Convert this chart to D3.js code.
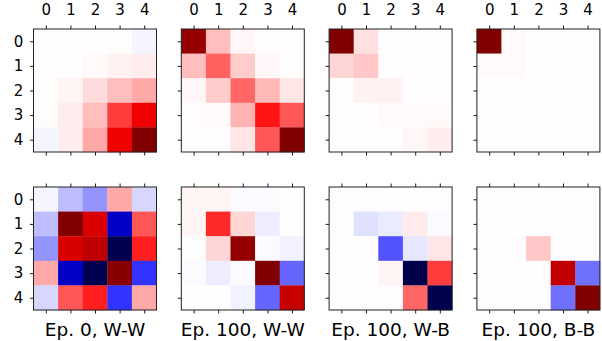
<!DOCTYPE html>
<html><head><meta charset="utf-8">
<script src="https://cdn.jsdelivr.net/npm/d3@7"></script>
<style>body{margin:0;background:#fff}svg{display:block}text{font-family:"DejaVu Sans",sans-serif;fill:#000}</style>
</head><body><svg id="c" width="602" height="341"></svg>
<script>
const labels = ["0","1","2","3","4"];
const titles = ["Ep. 0, W-W","Ep. 100, W-W","Ep. 100, W-B","Ep. 100, B-B"];

const top1 = [
 [0.003,0.003,0.003,0.005,-0.02],
 [0.003,0.003,0.012,0.025,0.035],
 [0.005,0.02,0.07,0.13,0.17],
 [0.006,0.035,0.13,0.38,0.56],
 [-0.02,0.035,0.17,0.56,1.0]];
const top2 = [
 [0.91,0.13,0.015,0.005,0.005],
 [0.13,0.31,0.1,0.015,0.005],
 [0.015,0.1,0.3,0.14,0.05],
 [0.005,0.012,0.15,0.46,0.33],
 [0.005,0.005,0.05,0.33,1.0]];
const top3 = [
 [1.0,0.06,0.004,0.004,0.004],
 [0.08,0.11,0.004,0.004,0.004],
 [0.004,0.025,0.025,0.004,0.004],
 [0.004,0.004,0.012,0.012,0.012],
 [0.004,0.004,0.004,0.015,0.035]];
const top4 = [
 [1.0,0.012,0.004,0.004,0.004],
 [0.012,0.012,0.004,0.004,0.004],
 [0.004,0.004,0.004,0.004,0.004],
 [0.004,0.004,0.004,0.004,0.004],
 [0.004,0.004,0.004,0.004,0.004]];
const bot1 = [
 [-0.02,-0.13,-0.21,0.17,-0.08],
 [-0.13,1.0,0.64,-0.66,0.33],
 [-0.21,0.64,0.75,-0.99,0.44],
 [0.17,-0.66,-0.99,0.97,-0.4],
 [-0.08,0.33,0.44,-0.4,0.17]];
const bot2 = [
 [0.02,0.02,-0.008,-0.008,0.004],
 [0.02,0.42,0.08,-0.035,0.004],
 [-0.004,0.08,0.92,-0.008,-0.025],
 [-0.008,-0.035,-0.008,1.0,-0.3],
 [0.004,0.004,-0.025,-0.3,0.72]];
const bot3 = [
 [-0.004,-0.004,0.004,0.004,-0.004],
 [-0.004,-0.06,-0.04,0.04,-0.01],
 [0.004,-0.003,-0.34,-0.05,0.05],
 [-0.004,0.003,0.02,-1.0,0.38],
 [0.003,-0.003,-0.004,0.3,-1.0]];
const bot4 = [
 [-0.004,-0.004,-0.004,-0.004,-0.004],
 [-0.004,-0.004,-0.004,-0.004,-0.004],
 [-0.004,-0.003,0.11,-0.004,-0.004],
 [0.003,0.003,0.003,0.74,-0.28],
 [-0.004,0.003,-0.004,-0.28,1.0]];

const topRow = [top1,top2,top3,top4];
const botRow = [bot1,bot2,bot3,bot4];

const svg = d3.select("#c");
const color = d3.scaleLinear().domain([-1,-0.5,0,0.5,1])
  .range(["rgb(0,0,77)","rgb(0,0,255)","rgb(255,255,255)","rgb(255,0,0)","rgb(128,0,0)"]).clamp(true);

const W = 123, H = 123, step = 147.8, x0 = 33.5;
const rowsY = [29, 187];

function drawPanel(mat, px, py, opts){
  const g = svg.append("g").attr("transform",`translate(${px},${py})`);
  const x = d3.scaleBand().domain(labels).range([0,W]);
  const y = d3.scaleBand().domain(labels).range([0,H]);
  const cells = [];
  mat.forEach((row,i)=>row.forEach((v,j)=>cells.push({i,j,v})));
  g.selectAll("rect.cell").data(cells).join("rect").attr("class","cell")
    .attr("x",d=>x(labels[d.j])).attr("y",d=>y(labels[d.i]))
    .attr("width",x.bandwidth()+0.3).attr("height",y.bandwidth()+0.3)
    .attr("fill",d=>color(d.v));
  const xs = d3.scalePoint().domain(labels).range([x.bandwidth()/2, W - x.bandwidth()/2]);
  const ys = d3.scalePoint().domain(labels).range([y.bandwidth()/2, H - y.bandwidth()/2]);
  const fmtNone = ()=> "";
  const at = d3.axisTop(xs).tickSize(3.5).tickPadding(10.8).tickFormat(opts.topLabels ? null : fmtNone);
  const ab = d3.axisBottom(xs).tickSize(3.5).tickFormat(fmtNone);
  const al = d3.axisLeft(ys).tickSize(3.5).tickPadding(6.7).tickFormat(opts.leftLabels ? null : fmtNone);
  const gt = g.append("g").call(at);
  const gb = g.append("g").attr("transform",`translate(0,${H})`).call(ab);
  const gl = g.append("g").call(al);
  [gt,gb,gl].forEach(a=>{
    a.select(".domain").remove();
    a.selectAll("line").attr("stroke","#000").attr("stroke-width",0.9);
    a.selectAll("text").attr("font-size",15).attr("font-family","DejaVu Sans").attr("fill","#000");
  });
  gt.selectAll("text").attr("dy","0em");
  g.append("rect").attr("x",0).attr("y",0).attr("width",W).attr("height",H)
    .attr("fill","none").attr("stroke","#222").attr("stroke-width",1);
  if(opts.title){
    g.append("text").attr("x",W/2).attr("y",H+26).attr("text-anchor","middle")
      .attr("font-size",18.5).text(opts.title);
  }
}

topRow.forEach((m,k)=>drawPanel(m, x0 + k*step, rowsY[0], {topLabels:true, leftLabels:k===0}));
botRow.forEach((m,k)=>drawPanel(m, x0 + k*step, rowsY[1], {topLabels:false, leftLabels:k===0, title:titles[k]}));
</script></body></html>
